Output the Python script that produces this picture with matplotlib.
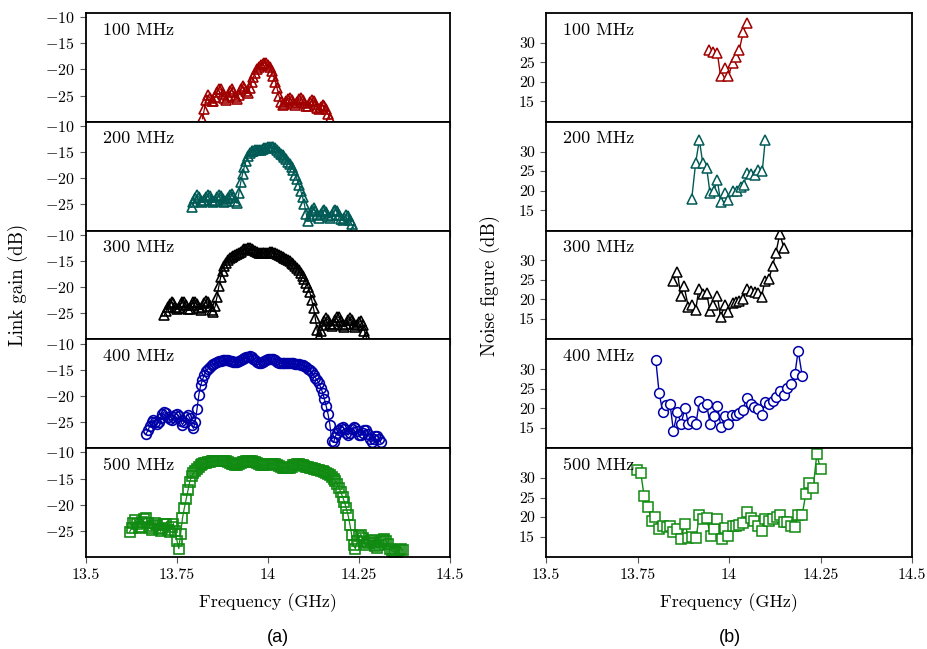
import numpy as np
import matplotlib
matplotlib.use("Agg")
import matplotlib.pyplot as plt

plt.rcParams['font.family'] = ['cmr10', 'DejaVu Serif']
plt.rcParams['mathtext.fontset'] = 'cm'
plt.rcParams['axes.unicode_minus'] = False

# ---------------- data: link gain (dB), uniform frequency sweeps ----------------
labels = ["100 MHz", "200 MHz", "300 MHz", "400 MHz", "500 MHz"]
colors = ["#a00000", "#005a55", "#000000", "#0000a8", "#108a10"]
gain_markers = ["^", "^", "^", "o", "s"]
nf_markers = ["^", "^", "^", "o", "s"]
gain_step = 0.005

gain_start_100 = 13.820
gain_100 = [-29.4, -27.6, -25.8, -24.9, -25.4, -26.1, -26.0, -25.2, -24.3, -23.7,
            -23.8, -24.6, -25.5, -25.8, -25.0, -24.2, -23.8, -24.3, -25.2, -25.6,
            -24.8, -23.8, -23.2, -23.5, -24.2, -24.4, -23.6, -22.4, -21.4, -20.6,
            -20.0, -19.5, -19.1, -18.9, -18.8, -18.8, -19.1, -19.6, -20.3, -21.2,
            -22.3, -23.6, -25.0, -26.2, -26.8, -26.6, -26.1, -25.6, -25.5, -25.9,
            -26.5, -26.8, -26.3, -25.7, -25.5, -25.9, -26.5, -27.0, -26.9, -26.3,
            -25.9, -26.0, -26.6, -27.3, -27.6, -27.2, -26.8, -26.9, -27.6, -28.5,
            -29.5]

gain_start_200 = 13.790
gain_200 = [-25.5, -24.6, -23.7, -23.2, -23.6, -24.3, -24.6, -24.2, -23.5, -23.1,
            -23.4, -24.1, -24.6, -24.3, -23.6, -23.1, -23.3, -24.0, -24.6, -24.4,
            -23.7, -23.1, -23.0, -23.6, -24.4, -24.8, -22.8, -20.8, -19.2, -17.8,
            -16.6, -15.7, -15.1, -14.8, -14.7, -14.6, -14.6, -14.5, -14.5, -14.4,
            -14.3, -14.2, -14.1, -14.0, -14.0, -14.1, -14.3, -14.6, -14.9, -15.3,
            -15.6, -16.0, -16.4, -16.8, -17.3, -17.9, -18.5, -19.3, -20.2, -21.2,
            -22.4, -23.6, -25.0, -26.8, -28.2, -27.2, -26.1, -25.6, -26.2, -27.0,
            -27.5, -26.9, -26.2, -26.0, -26.5, -27.3, -27.6, -27.0, -26.3, -26.0,
            -26.3, -27.0, -27.7, -28.0, -27.6, -27.0, -27.3, -28.0, -28.8, -29.6]

gain_start_300 = 13.715
gain_300 = [-25.4, -24.6, -23.8, -23.2, -22.8, -23.1, -23.8, -24.2, -24.0, -23.3,
            -22.8, -22.9, -23.5, -24.2, -24.1, -23.4, -22.9, -22.8, -23.3, -24.0,
            -24.3, -23.8, -23.1, -22.7, -22.9, -23.6, -24.3, -24.7, -23.6, -21.8,
            -19.8, -18.1, -16.9, -16.0, -15.3, -14.8, -14.5, -14.2, -14.0, -13.8,
            -13.6, -13.4, -13.2, -13.0, -12.8, -12.7, -12.6, -12.6, -12.7, -12.9,
            -13.1, -13.3, -13.4, -13.5, -13.5, -13.5, -13.5, -13.4, -13.3, -13.3,
            -13.4, -13.5, -13.7, -13.9, -14.0, -14.2, -14.4, -14.6, -14.8, -15.0,
            -15.3, -15.6, -15.9, -16.3, -16.8, -17.3, -17.9, -18.5, -19.2, -19.9,
            -21.0, -22.4, -24.0, -26.0, -28.2, -29.5, -28.4, -27.2, -26.4, -25.9,
            -26.3, -27.0, -27.5, -27.0, -26.2, -25.7, -25.8, -26.5, -27.3, -27.6,
            -27.0, -26.2, -25.9, -26.2, -27.0, -27.6, -27.3, -26.7, -26.5, -27.2,
            -28.4, -29.6]

gain_start_400 = 13.665
gain_400 = [-27.3, -26.6, -25.8, -25.0, -24.6, -24.9, -25.3, -25.0, -24.2, -23.4,
            -23.0, -23.3, -24.0, -24.5, -24.6, -24.1, -23.6, -23.5, -23.9, -24.8,
            -25.5, -25.0, -24.0, -23.6, -24.3, -25.5, -26.2, -25.0, -22.5, -19.8,
            -18.0, -16.9, -16.0, -15.3, -14.8, -14.4, -14.1, -13.9, -13.7, -13.5,
            -13.4, -13.3, -13.2, -13.1, -13.1, -13.2, -13.3, -13.4, -13.5, -13.5,
            -13.5, -13.4, -13.2, -13.0, -12.8, -12.6, -12.5, -12.4, -12.6, -12.9,
            -13.2, -13.5, -13.7, -13.7, -13.6, -13.4, -13.2, -13.0, -12.9, -12.9,
            -13.0, -13.2, -13.5, -13.7, -13.8, -13.8, -13.8, -13.8, -13.8, -13.8,
            -13.8, -13.8, -13.9, -13.9, -13.9, -14.0, -14.1, -14.3, -14.5, -14.8,
            -15.1, -15.5, -16.0, -16.5, -17.0, -17.6, -18.4, -19.4, -20.6, -22.0,
            -23.5, -25.5, -28.6, -28.9, -27.8, -27.0, -26.6, -26.2, -25.9, -26.4,
            -27.1, -27.5, -27.0, -26.3, -25.9, -26.1, -26.8, -27.4, -27.5, -27.0,
            -26.6, -26.6, -27.3, -28.2, -28.8, -28.2, -27.6, -27.6, -28.3, -28.9]

gain_start_500 = 13.620
gain_500 = [-25.2, -24.5, -23.5, -22.9, -23.6, -24.4, -24.3, -23.4, -22.8, -22.6,
            -23.5, -24.5, -24.8, -24.0, -23.5, -23.8, -24.7, -25.1, -24.5, -23.6,
            -23.7, -24.8, -25.2, -24.2, -23.6, -25.0, -26.9, -28.4, -25.6, -22.6,
            -20.7, -19.0, -17.2, -15.6, -14.6, -14.0, -13.5, -13.1, -12.8, -12.5,
            -12.3, -12.1, -12.0, -11.9, -11.8, -11.7, -11.6, -11.6, -11.6, -11.6,
            -11.6, -11.6, -11.6, -11.7, -11.8, -12.0, -12.2, -12.3, -12.4, -12.4,
            -12.3, -12.1, -11.9, -11.8, -11.7, -11.7, -11.7, -11.7, -11.8, -11.9,
            -12.1, -12.3, -12.4, -12.5, -12.5, -12.4, -12.3, -12.2, -12.2, -12.2,
            -12.3, -12.5, -12.6, -12.8, -12.9, -13.0, -13.0, -13.0, -12.9, -12.7,
            -12.5, -12.4, -12.3, -12.3, -12.4, -12.5, -12.6, -12.7, -12.8, -12.9,
            -13.0, -13.1, -13.2, -13.3, -13.4, -13.5, -13.6, -13.7, -13.9, -14.1,
            -14.4, -14.7, -15.0, -15.5, -16.1, -16.8, -17.6, -18.5, -19.5, -20.7,
            -22.0, -23.8, -25.8, -27.8, -28.4, -27.0, -26.0, -25.7, -26.3, -27.2,
            -27.8, -27.3, -26.9, -26.8, -27.3, -27.9, -28.2, -27.8, -27.2, -26.8,
            -26.6, -26.9, -27.6, -28.5, -28.8, -29.0, -29.1, -29.0, -28.6, -28.4,
            -28.7]

gain_starts = [gain_start_100, gain_start_200, gain_start_300, gain_start_400, gain_start_500]
gain_vals = [gain_100, gain_200, gain_300, gain_400, gain_500]

# ---------------- data: noise figure (dB) ----------------
nf_f_100 = [13.946, 13.957, 13.968, 13.977, 13.989, 13.998, 14.010, 14.019, 14.028, 14.039, 14.048]
nf_100 = [28.1, 27.6, 27.5, 21.5, 23.5, 21.5, 24.8, 26.3, 28.1, 32.8, 35.1]

nf_f_200 = [13.898, 13.909, 13.919, 13.928, 13.939, 13.948, 13.959, 13.968, 13.977, 13.988,
            13.998, 14.010, 14.021, 14.032, 14.041, 14.048, 14.060, 14.071, 14.080, 14.091, 14.099]
nf_200 = [17.8, 27.2, 33.0, 27.2, 25.8, 19.5, 20.0, 22.8, 17.2, 19.5,
          17.6, 20.0, 20.0, 20.9, 21.5, 24.6, 24.3, 24.0, 25.3, 25.1, 33.0]

nf_f_300 = [13.848, 13.859, 13.868, 13.877, 13.889, 13.898, 13.909, 13.918, 13.928, 13.939,
            13.948, 13.957, 13.968, 13.977, 13.989, 13.998, 14.010, 14.019, 14.028, 14.039,
            14.048, 14.060, 14.071, 14.080, 14.089, 14.098, 14.109, 14.119, 14.128, 14.139, 14.150]
nf_300 = [24.7, 27.1, 20.9, 23.4, 18.1, 18.5, 17.4, 22.8, 21.3, 21.6,
          17.0, 18.7, 20.9, 15.5, 18.7, 16.7, 19.2, 19.3, 19.6, 20.2,
          22.8, 22.1, 21.9, 21.6, 20.7, 24.7, 25.2, 28.6, 31.9, 36.8, 33.1]

nf_f_400 = [13.800, 13.809, 13.819, 13.828, 13.839, 13.848, 13.859, 13.869, 13.880, 13.889,
            13.900, 13.910, 13.919, 13.928, 13.939, 13.948, 13.959, 13.968, 13.978, 13.989,
            13.998, 14.008, 14.019, 14.028, 14.037, 14.048, 14.059, 14.068, 14.078, 14.089,
            14.098, 14.109, 14.119, 14.128, 14.139, 14.150, 14.159, 14.169, 14.180, 14.189, 14.200]
nf_400 = [32.3, 24.0, 19.0, 20.9, 21.0, 14.3, 19.0, 16.1, 20.0, 16.1,
          16.7, 16.1, 21.9, 20.2, 21.0, 16.1, 18.0, 20.6, 15.3, 18.0,
          16.1, 18.4, 18.2, 18.7, 19.5, 22.5, 21.0, 20.2, 19.7, 18.2,
          21.6, 21.0, 21.9, 23.0, 24.4, 23.3, 25.3, 26.1, 28.7, 34.7, 28.3]

nf_f_500 = [13.748, 13.759, 13.768, 13.778, 13.789, 13.798, 13.809, 13.819, 13.830, 13.839,
            13.848, 13.859, 13.868, 13.880, 13.889, 13.900, 13.910, 13.919, 13.930, 13.939,
            13.950, 13.959, 13.968, 13.980, 13.989, 13.998, 14.010, 14.019, 14.028, 14.037,
            14.048, 14.059, 14.068, 14.078, 14.089, 14.098, 14.109, 14.119, 14.130, 14.139,
            14.150, 14.159, 14.169, 14.180, 14.189, 14.200, 14.210, 14.219, 14.230, 14.240, 14.250]
nf_500 = [32.0, 31.3, 25.4, 22.7, 19.1, 20.0, 17.0, 17.7, 17.4, 17.7,
          16.1, 17.0, 14.4, 18.3, 14.6, 14.8, 14.6, 20.6, 19.5, 19.7,
          15.2, 17.0, 19.5, 14.4, 17.1, 15.1, 17.7, 17.7, 18.0, 18.5,
          21.3, 19.7, 19.1, 17.7, 16.5, 19.5, 19.1, 19.4, 20.0, 20.6,
          18.7, 18.8, 17.7, 17.4, 20.6, 20.6, 26.0, 28.8, 27.4, 36.2, 32.2]

nf_freqs = [nf_f_100, nf_f_200, nf_f_300, nf_f_400, nf_f_500]
nf_vals = [nf_100, nf_200, nf_300, nf_400, nf_500]

x_ticks = [13.5, 13.75, 14.0, 14.25, 14.5]
x_ticklabels = ["13.5", "13.75", "14", "14.25", "14.5"]
gain_ticks = [-10, -15, -20, -25]
gain_ticklabels = [r"$-10$", r"$-15$", r"$-20$", r"$-25$"]
nf_ticks = [15, 20, 25, 30]
nf_ticklabels = ["15", "20", "25", "30"]

# ---------------- figure ----------------
W, H = 928, 649
fig = plt.figure(figsize=(W / 100, H / 100), dpi=100)

top_px, panel_px = 13, 108.8
cols = [(86, 364), (546, 366)]


def make_ax(col, k):
    x0, w = cols[col]
    y_top = top_px + panel_px * k
    return fig.add_axes([x0 / W, 1 - (y_top + panel_px) / H, w / W, panel_px / H])


def style(ax, last):
    for s in ax.spines.values():
        s.set_linewidth(1.3)
    ax.set_xlim(13.5, 14.5)
    ax.set_xticks(x_ticks)
    ax.tick_params(axis='both', which='both', direction='out', length=4.5,
                   width=0.8, color='0.35', labelsize=11.5, top=False, right=False)
    if last:
        ax.set_xticklabels(x_ticklabels)
        ax.set_xlabel("Frequency (GHz)", fontsize=13, labelpad=8)
    else:
        ax.set_xticklabels([])


gain_ms = {"^": 6.5, "o": 7.0, "s": 6.5}

for k in range(5):
    # left: link gain
    ax = make_ax(0, k)
    fr = gain_starts[k] + gain_step * np.arange(len(gain_vals[k]))
    ax.plot(fr, gain_vals[k], color=colors[k], lw=0.9, marker=gain_markers[k],
            ms=gain_ms[gain_markers[k]], mfc='none', mew=1.2, clip_on=True)
    ax.set_ylim(-30, -9.2)
    ax.set_yticks(gain_ticks)
    ax.set_yticklabels(gain_ticklabels)
    ax.text(0.047, 0.845, labels[k], transform=ax.transAxes, fontsize=13,
            va='center', ha='left')
    style(ax, k == 4)

    # right: noise figure
    ax2 = make_ax(1, k)
    ms2 = 7 if nf_markers[k] == "o" else 6.5
    ax2.plot(nf_freqs[k], nf_vals[k], color=colors[k], lw=1.0, marker=nf_markers[k],
             ms=ms2, mfc='white', mew=1.1)
    ax2.set_ylim(9.8, 37.6)
    ax2.set_yticks(nf_ticks)
    ax2.set_yticklabels(nf_ticklabels)
    ax2.text(0.046, 0.845, labels[k], transform=ax2.transAxes, fontsize=13,
             va='center', ha='left')
    style(ax2, k == 4)

fig.text(18 / W, 1 - 285 / H, "Link gain (dB)", rotation=90, fontsize=13.5,
         ha='center', va='center')
fig.text(490 / W, 1 - 285 / H, "Noise figure (dB)", rotation=90, fontsize=13.5,
         ha='center', va='center')
fig.text(278 / W, 1 - 637 / H, "(a)", fontsize=13, ha='center', va='center',
         family=['Liberation Sans', 'DejaVu Sans'])
fig.text(730 / W, 1 - 637 / H, "(b)", fontsize=13, ha='center', va='center',
         family=['Liberation Sans', 'DejaVu Sans'])

fig.savefig("out.png", dpi=100)
